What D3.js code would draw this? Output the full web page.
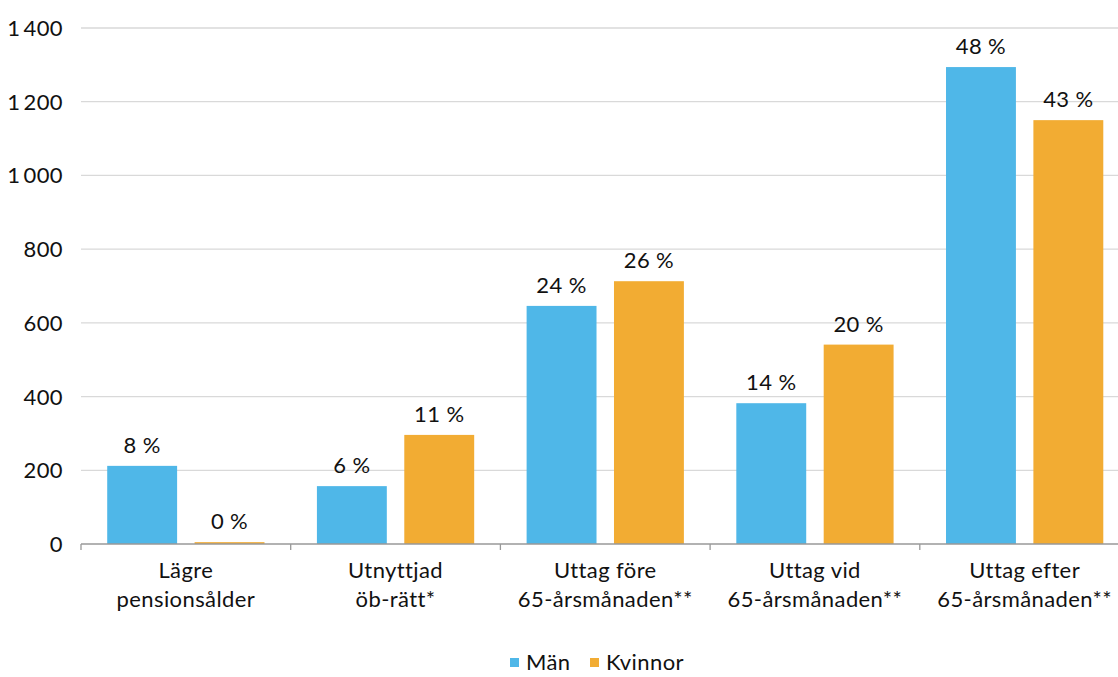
<!DOCTYPE html>
<html>
<head>
<meta charset="utf-8">
<script src="https://cdn.jsdelivr.net/npm/d3@7"></script>
<style>
  body { margin: 0; background: #fff; }
  svg { display: block; font-family: Lato, "Noto Sans", sans-serif; letter-spacing: 0.4px; }
</style>
</head>
<body>
<div id="chart"></div>
<script>
const categories = [
    ["Lägre", "pensionsålder"],
    ["Utnyttjad", "öb-rätt*"],
    ["Uttag före", "65-årsmånaden**"],
    ["Uttag vid", "65-årsmånaden**"],
    ["Uttag efter", "65-årsmånaden**"]
];
const seriesNames = ["Män", "Kvinnor"];
const manValues = [212, 157, 646, 382, 1294];
const kvinnorValues = [5, 296, 713, 541, 1150];
const manLabels = ["8 %", "6 %", "24 %", "14 %", "48 %"];
const kvinnorLabels = ["0 %", "11 %", "26 %", "20 %", "43 %"];
const yTicks = [0, 200, 400, 600, 800, 1000, 1200, 1400];
const colors = ["#4fb7e8", "#f2ac33"];

const W = 1118, H = 677;
const plotLeft = 81, plotRight = 1129.5, plotTop = 28, plotBottom = 544;
const fontSize = 22;

const svg = d3.select("#chart").append("svg")
    .attr("width", W)
    .attr("height", H);

const x0 = d3.scaleBand()
    .domain(d3.range(categories.length))
    .range([plotLeft, plotRight])
    .paddingInner(0)
    .paddingOuter(0);

const x1 = d3.scaleBand()
    .domain([0, 1])
    .range([0, x0.bandwidth()])
    .paddingInner(0.2)
    .paddingOuter(0.3);

const y = d3.scaleLinear().domain([0, 1400]).range([plotBottom, plotTop]);

// gridlines
svg.append("g")
    .selectAll("line")
    .data(yTicks.filter(d => d > 0))
    .enter().append("line")
    .attr("x1", plotLeft).attr("x2", W)
    .attr("y1", d => y(d)).attr("y2", d => y(d))
    .attr("stroke", "#d9d9d9")
    .attr("stroke-width", 1.3);

// y tick labels
svg.append("g")
    .selectAll("text")
    .data(yTicks)
    .enter().append("text")
    .attr("x", 63)
    .attr("y", d => y(d) + 8)
    .attr("text-anchor", "end")
    .attr("font-size", fontSize)
    .attr("fill", "#111")
    .text(d => d3.format(",")(d).replace(",", "\u2009"));

const rows = categories.map((c, i) => [
    { s: 0, i, v: manValues[i], label: manLabels[i] },
    { s: 1, i, v: kvinnorValues[i], label: kvinnorLabels[i] }
]);

const groups = svg.append("g")
    .selectAll("g")
    .data(rows)
    .enter().append("g")
    .attr("transform", (d, i) => "translate(" + x0(i) + ",0)");

groups.selectAll("rect")
    .data(d => d)
    .enter().append("rect")
    .attr("x", d => x1(d.s))
    .attr("width", x1.bandwidth())
    .attr("y", d => y(d.v))
    .attr("height", d => y(0) - y(d.v))
    .attr("fill", d => colors[d.s]);

groups.selectAll("text")
    .data(d => d)
    .enter().append("text")
    .attr("x", d => x1(d.s) + x1.bandwidth() / 2)
    .attr("y", d => y(d.v) - 13)
    .attr("text-anchor", "middle")
    .attr("font-size", fontSize)
    .attr("fill", "#111")
    .text(d => d.label);

// x axis
const xAxis = svg.append("g");
xAxis.append("line")
    .attr("x1", plotLeft).attr("x2", W)
    .attr("y1", plotBottom).attr("y2", plotBottom)
    .attr("stroke", "#999")
    .attr("stroke-width", 1.3);
xAxis.selectAll("line.tick")
    .data(d3.range(categories.length + 1))
    .enter().append("line")
    .attr("class", "tick")
    .attr("x1", i => plotLeft + i * x0.step())
    .attr("x2", i => plotLeft + i * x0.step())
    .attr("y1", plotBottom).attr("y2", plotBottom + 6)
    .attr("stroke", "#999")
    .attr("stroke-width", 1.3);

xAxis.selectAll("text")
    .data(categories)
    .enter().append("text")
    .attr("x", (d, i) => x0(i) + x0.bandwidth() / 2)
    .attr("y", 578)
    .attr("text-anchor", "middle")
    .attr("font-size", fontSize)
    .attr("fill", "#111")
    .each(function(d) {
        d3.select(this).selectAll("tspan")
            .data(d)
            .enter().append("tspan")
            .attr("x", d3.select(this).attr("x"))
            .attr("dy", (t, j) => j === 0 ? 0 : 29)
            .text(t => t);
    });

// legend
const legend = svg.append("g");
const legendX = [510, 590];
seriesNames.forEach((name, i) => {
    legend.append("rect")
        .attr("x", legendX[i])
        .attr("y", 658)
        .attr("width", 9)
        .attr("height", 9)
        .attr("fill", colors[i]);
    legend.append("text")
        .attr("x", legendX[i] + 16)
        .attr("y", 670)
        .attr("font-size", fontSize)
        .attr("fill", "#111")
        .text(name);
});
</script>
</body>
</html>
